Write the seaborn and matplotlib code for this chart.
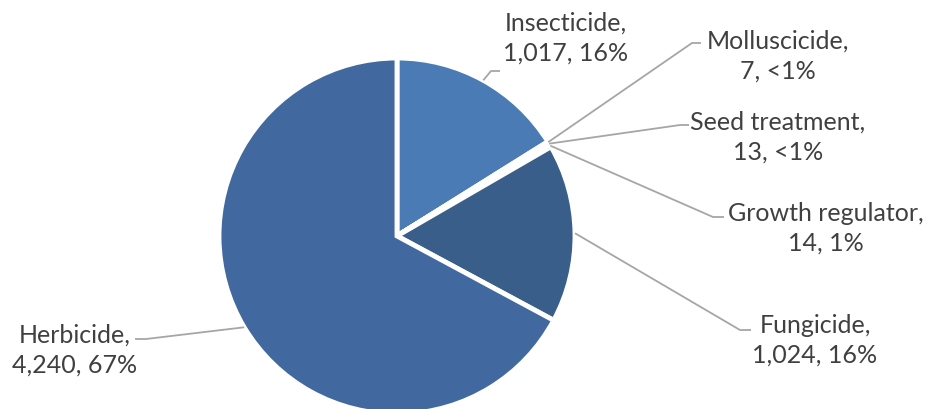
import numpy as np
import matplotlib
matplotlib.use("Agg")
import matplotlib.pyplot as plt
import seaborn as sns

# Pesticide products by type
categories = ["Insecticide", "Molluscicide", "Seed treatment", "Growth regulator", "Fungicide", "Herbicide"]
counts = [1017, 7, 13, 14, 1024, 4240]
pct_labels = ["16%", "<1%", "<1%", "1%", "16%", "67%"]

colors = ["#4a7bb4", "#5a87be", "#6b93c5", "#7d9fcb", "#3a5e8a", "#41699f"]

sns.set_theme(style="white")
plt.rcParams["font.family"] = ["Lato", "DejaVu Sans"]

W, H = 930, 410
fig = plt.figure(figsize=(W / 100, H / 100), dpi=100)
ax = fig.add_axes([0, 0, 1, 1])

cx, cy, r = 397, H - 237, 178
wedges, _ = ax.pie(counts, colors=colors, startangle=90, counterclock=False,
                   center=(cx, cy), radius=r, frame=True,
                   wedgeprops=dict(edgecolor="white", linewidth=3.5))
ax.set_xlim(0, W)
ax.set_ylim(0, H)
ax.set_aspect("equal")
ax.axis("off")

# label block centre, elbow point, and end of the short horizontal tail
label_pos = [(566, 38), (778, 56), (778, 137), (826, 228), (815, 340), (75, 350)]
elbows = [((491, 72), (500, 72)), ((692, 44), (701, 44)), ((680, 126), (689, 126)),
          ((713, 218), (724, 218)), ((740, 331), (751, 331)), ((146, 340), (135, 340))]

for w, name, n, p, pos, (e1, e2) in zip(wedges, categories, counts, pct_labels, label_pos, elbows):
    mid = np.deg2rad((w.theta1 + w.theta2) / 2)
    sx, sy = cx + r * np.cos(mid), cy + r * np.sin(mid)
    xs = [sx, e1[0], e2[0]]
    ys = [sy, H - e1[1], H - e2[1]]
    ax.plot(xs, ys, color="#a6a6a6", lw=1.3, solid_capstyle="butt", zorder=1)
    ax.text(pos[0], H - pos[1], f"{name},\n{n:,}, {p}", ha="center", va="center",
            fontsize=18, color="#404040", linespacing=1.35)

fig.savefig("out.png", dpi=100, facecolor="white")
